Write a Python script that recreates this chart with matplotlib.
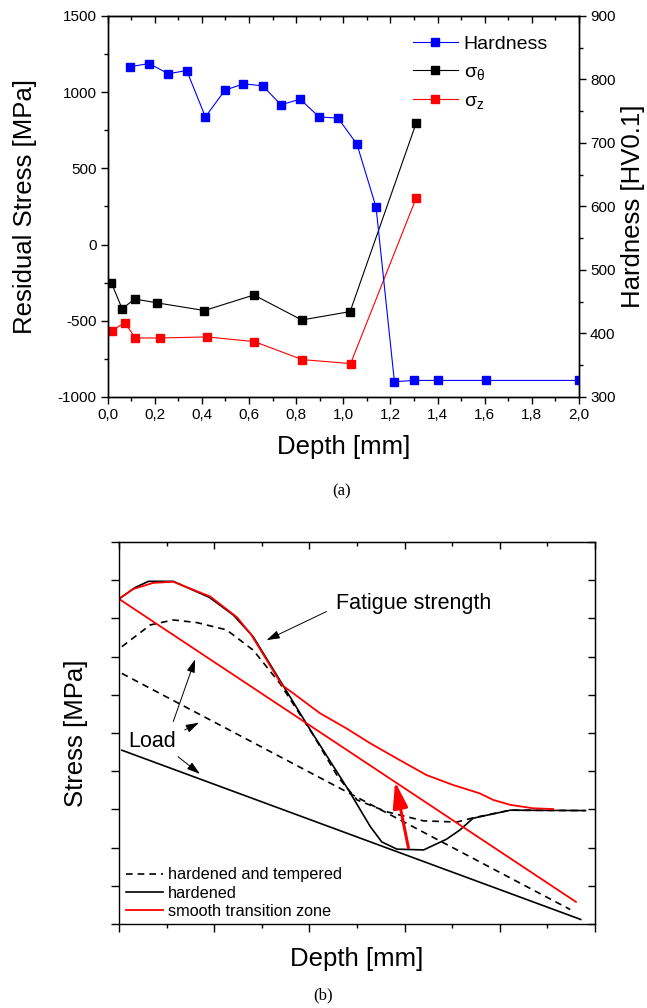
import matplotlib
matplotlib.use('Agg')
import matplotlib.pyplot as plt
from matplotlib.ticker import MultipleLocator, FuncFormatter

plt.rcParams['font.family'] = ['Liberation Sans', 'DejaVu Sans']
plt.rcParams['axes.unicode_minus'] = False
plt.rcParams['mathtext.fontset'] = 'custom'
plt.rcParams['mathtext.rm'] = 'Liberation Sans'
plt.rcParams['mathtext.it'] = 'Liberation Sans'

# (a) hardness and residual stress profiles
depth_hv = [0.095, 0.176, 0.258, 0.336, 0.415, 0.498, 0.576, 0.658, 0.736, 0.817,
            0.897, 0.978, 1.058, 1.139, 1.217, 1.299, 1.403, 1.604, 2.0]
hardness = [820, 825, 809, 814, 741, 783, 793, 790, 760, 769,
            741, 739, 698, 599, 324, 326, 326, 326, 326]
depth_theta = [0.016, 0.062, 0.115, 0.211, 0.411, 0.621, 0.824, 1.029, 1.309]
sigma_theta = [-250, -422, -357, -383, -433, -331, -495, -440, 796]
depth_z = [0.019, 0.073, 0.118, 0.221, 0.421, 0.623, 0.826, 1.031, 1.309]
sigma_z = [-565, -512, -613, -613, -606, -637, -755, -781, 304]

# (b) schematic stress vs depth
fs_hard_x = [0, 0.17, 0.31, 0.57, 0.95, 1.20, 1.41, 1.71, 2.01, 2.41, 2.64, 2.76,
             2.92, 3.20, 3.44, 3.58, 3.72, 4.11, 4.90]
fs_hard_y = [8.51, 8.81, 8.97, 8.97, 8.55, 8.09, 7.52, 6.30, 5.08, 3.51, 2.55, 2.15,
             1.96, 1.94, 2.22, 2.46, 2.77, 2.98, 2.97]
fs_temp_x = [0.03, 0.33, 0.57, 0.82, 1.13, 1.41, 1.69, 2.04, 2.30, 2.50, 2.81, 3.20,
             3.55, 3.72, 4.11, 4.90]
fs_temp_y = [7.26, 7.83, 7.96, 7.89, 7.70, 7.17, 6.30, 4.95, 3.85, 3.25, 2.94, 2.70,
             2.67, 2.78, 2.98, 2.97]
fs_smooth_x = [0, 0.15, 0.36, 0.57, 0.96, 1.24, 1.39, 1.71, 1.83, 2.11, 2.39, 2.64,
               2.95, 3.23, 3.51, 3.79, 3.93, 4.11, 4.35, 4.56]
fs_smooth_y = [8.51, 8.77, 8.93, 8.96, 8.57, 8.03, 7.57, 6.26, 6.04, 5.52, 5.12, 4.73,
               4.29, 3.90, 3.64, 3.42, 3.25, 3.12, 3.03, 3.01]
load_temp_x = [0.03, 4.74]
load_temp_y = [6.56, 0.38]
load_hard_x = [0.03, 4.85]
load_hard_y = [4.55, 0.12]
load_smooth_x = [0, 4.80]
load_smooth_y = [8.51, 0.58]


def comma(x, pos):
    return f'{x:.1f}'.replace('.', ',')


fig = plt.figure(figsize=(6.47, 10.08), dpi=100)

# ---- top chart ----
ax1 = fig.add_axes([0.1662, 0.6062, 0.7287, 0.3780])
ax2 = ax1.twinx()

ax2.plot(depth_hv, hardness, '-s', color='#0000ff', lw=0.8, ms=6, label='Hardness')
ax1.plot(depth_theta, sigma_theta, '-s', color='black', lw=0.8, ms=6)
ax1.plot(depth_z, sigma_z, '-s', color='#ff0000', lw=0.8, ms=6)
ax2.plot([], [], '-s', color='black', lw=0.8, ms=6, label=r'$\sigma_\theta$')
ax2.plot([], [], '-s', color='#ff0000', lw=0.8, ms=6, label=r'$\sigma_z$')

ax1.set_xlim(0, 2.0)
ax1.set_ylim(-1000, 1500)
ax2.set_ylim(300, 900)
ax1.xaxis.set_major_locator(MultipleLocator(0.2))
ax1.xaxis.set_minor_locator(MultipleLocator(0.1))
ax1.xaxis.set_major_formatter(FuncFormatter(comma))
ax1.yaxis.set_major_locator(MultipleLocator(500))
ax1.yaxis.set_minor_locator(MultipleLocator(250))
ax2.yaxis.set_major_locator(MultipleLocator(100))
ax2.yaxis.set_minor_locator(MultipleLocator(50))

for a in (ax1, ax2):
    a.tick_params(which='major', direction='out', length=5, width=1, labelsize=11, pad=3)
    a.tick_params(which='minor', direction='out', length=3, width=1)
    for s in a.spines.values():
        s.set_linewidth(1)

top1 = ax1.secondary_xaxis('top')
top1.xaxis.set_major_locator(MultipleLocator(0.2))
top1.xaxis.set_minor_locator(MultipleLocator(0.1))
top1.tick_params(which='major', direction='in', length=5, width=1, labeltop=False)
top1.tick_params(which='minor', direction='in', length=3, width=1)

ax1.set_xlabel('Depth [mm]', fontsize=18.5, labelpad=9)
ax1.set_ylabel('Residual Stress [MPa]', fontsize=18.5, labelpad=15)
ax2.set_ylabel('Hardness [HV0.1]', fontsize=18.5, labelpad=4)

ax2.legend(loc='upper left', bbox_to_anchor=(413 / 647, 1 - 35 / 1008),
           bbox_transform=fig.transFigure, frameon=False, fontsize=14,
           handlelength=2.3, handletextpad=0.3, labelspacing=0.55,
           borderpad=0, borderaxespad=0)

fig.text(342 / 647, 1 - 491 / 1008, '(a)', family='Liberation Serif', fontsize=12,
         ha='center', va='center')

# ---- bottom chart ----
ax3 = fig.add_axes([0.1839, 0.0833, 0.7357, 0.3790])
dash = (0, (4, 3))
ax3.plot(fs_temp_x, fs_temp_y, color='black', lw=1.2, linestyle=dash,
         label='hardened and tempered')
ax3.plot(fs_hard_x, fs_hard_y, color='black', lw=1.2, label='hardened')
ax3.plot(fs_smooth_x, fs_smooth_y, color='#ff0000', lw=1.3, label='smooth transition zone')
ax3.plot(load_temp_x, load_temp_y, color='black', lw=1.2, linestyle=dash)
ax3.plot(load_hard_x, load_hard_y, color='black', lw=1.2)
ax3.plot(load_smooth_x, load_smooth_y, color='#ff0000', lw=1.3)

ax3.annotate('', xy=(2.90, 3.73), xytext=(3.04, 2.00),
             arrowprops=dict(arrowstyle='-|>,head_length=1.05,head_width=0.3',
                             color='#ff0000', lw=2.2, mutation_scale=15,
                             shrinkA=0, shrinkB=0))
thin = dict(arrowstyle='-|>,head_length=0.8,head_width=0.25', color='black',
            lw=0.7, mutation_scale=10, shrinkA=0, shrinkB=0)
ax3.annotate('', xy=(1.55, 7.43), xytext=(2.18, 8.18), arrowprops=thin)
ax3.annotate('', xy=(0.80, 6.93), xytext=(0.57, 5.30), arrowprops=thin)
ax3.annotate('', xy=(0.84, 5.27), xytext=(0.69, 5.08), arrowprops=thin)
ax3.annotate('', xy=(0.85, 3.93), xytext=(0.62, 4.38), arrowprops=thin)
ax3.text(2.28, 8.40, 'Fatigue strength', fontsize=15.5, ha='left', va='center')
ax3.text(0.095, 4.77, 'Load', fontsize=15.5, ha='left', va='center')

ax3.set_xlim(0, 5)
ax3.set_ylim(0, 10)
ax3.xaxis.set_major_locator(MultipleLocator(1))
ax3.xaxis.set_minor_locator(MultipleLocator(0.5))
ax3.yaxis.set_major_locator(MultipleLocator(1))
ax3.tick_params(which='major', direction='out', length=5.5, width=1,
                labelbottom=False, labelleft=False)
ax3.tick_params(which='minor', direction='out', length=3, width=1)
for s in ax3.spines.values():
    s.set_linewidth(1)

top3 = ax3.secondary_xaxis('top')
top3.xaxis.set_major_locator(MultipleLocator(1))
top3.xaxis.set_minor_locator(MultipleLocator(0.5))
top3.tick_params(which='major', direction='in', length=5, width=1, labeltop=False)
top3.tick_params(which='minor', direction='in', length=3, width=1)
right3 = ax3.secondary_yaxis('right')
right3.yaxis.set_major_locator(MultipleLocator(1))
right3.tick_params(which='major', direction='in', length=5, width=1, labelright=False)

ax3.set_xlabel('Depth [mm]', fontsize=18.5, labelpad=10)
ax3.set_ylabel('Stress [MPa]', fontsize=18.5, labelpad=17)

ax3.legend(loc='lower left', bbox_to_anchor=(126 / 647, 1 - 919 / 1008),
           bbox_transform=fig.transFigure, frameon=False, fontsize=11.7,
           handlelength=2.3, handletextpad=0.3, labelspacing=0.2,
           borderpad=0, borderaxespad=0)

fig.text(323 / 647, 1 - 995 / 1008, '(b)', family='Liberation Serif', fontsize=12,
         ha='center', va='center')

plt.savefig('out.png', dpi=100)
